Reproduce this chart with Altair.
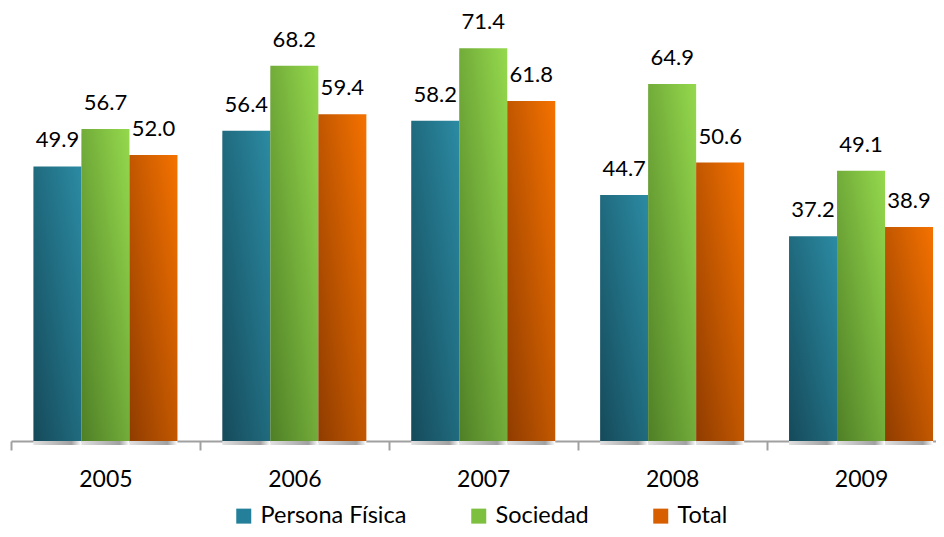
import altair as alt
import pandas as pd

years = ["2005", "2006", "2007", "2008", "2009"]
series = ["Persona Física", "Sociedad", "Total"]
persona = [49.9, 56.4, 58.2, 44.7, 37.2]
sociedad = [56.7, 68.2, 71.4, 64.9, 49.1]
total = [52.0, 59.4, 61.8, 50.6, 38.9]

rows = []
for s, vals in zip(series, [persona, sociedad, total]):
    for yr, v in zip(years, vals):
        rows.append({"year": yr, "series": s, "value": v})
df = pd.DataFrame(rows)

FONT = "Lato"


def grad(c0, c1):
    return {"gradient": "linear", "x1": 0, "y1": 1, "x2": 1, "y2": 0,
            "stops": [{"offset": 0, "color": c0}, {"offset": 1, "color": c1}]}


grads = {
    series[0]: grad("#154a5a", "#2b8ba3"),
    series[1]: grad("#4f7f26", "#95d94d"),
    series[2]: grad("#8f3c00", "#f57200"),
}
solid = ["#24809a", "#7dbf3e", "#d85f00"]

shadow_grad = {"gradient": "linear", "x1": 0, "y1": 0, "x2": 1, "y2": 0,
               "stops": [{"offset": 0, "color": "#e0e0e0"},
                         {"offset": 0.79, "color": "#a0a0a0"},
                         {"offset": 1, "color": "#ffffff"}]}

x_enc = alt.X(
    "year:N",
    scale=alt.Scale(domain=years, paddingInner=0, paddingOuter=0),
    axis=alt.Axis(title=None, labelAngle=0, labelFont=FONT, labelFontSize=23,
                  labelColor="#000000", labelPadding=18, domainColor="#a0a0a0",
                  domainWidth=2, tickColor="#a0a0a0", tickWidth=2, tickSize=9,
                  tickBand="extent", grid=False),
)
xo_enc = alt.XOffset("series:N", scale=alt.Scale(domain=series, paddingInner=0, paddingOuter=0.4675))
y_enc = alt.Y("value:Q", scale=alt.Scale(domain=[0, 78.7], nice=False, zero=True), axis=None)

fill_def = {
    "field": "series",
    "type": "nominal",
    "scale": {"domain": series, "range": solid},
    "legend": {
        "title": None,
        "orient": "none",
        "legendX": 221,
        "legendY": 496,
        "direction": "horizontal",
        "symbolType": "square",
        "symbolSize": 225,
        "symbolStrokeWidth": 0,
        "symbolOpacity": 1,
        "labelFont": FONT,
        "labelFontSize": 23.5,
        "labelColor": "#000000",
        "labelOffset": 5,
        "columnPadding": 60,
        "labelLimit": 300,
    },
    "condition": [{"test": f"datum.series === '{s}'", "value": grads[s]} for s in series],
}

base = alt.Chart(df)

shadow = base.mark_bar(xOffset=10, yOffset=4, y2Offset=1.5, fill=shadow_grad).encode(
    x=x_enc, xOffset=xo_enc, y=y_enc
)

bars = base.mark_bar().encode(x=x_enc, xOffset=xo_enc, y=y_enc, fill=fill_def)

labels = base.mark_text(dy=-19, baseline="alphabetic", font=FONT, fontSize=22,
                        color="#000000").encode(
    x=x_enc, xOffset=xo_enc, y=y_enc, text=alt.Text("value:Q", format=".1f")
)

chart = alt.layer(shadow, bars, labels).properties(
    width=944.5,
    height=433,
    autosize=alt.AutoSizeParams(type="none"),
    padding={"left": 3, "top": 0, "right": -19.5, "bottom": 88},
).configure_view(stroke=None)

chart.save("out.html", embed_options={"renderer": "svg", "actions": False})
